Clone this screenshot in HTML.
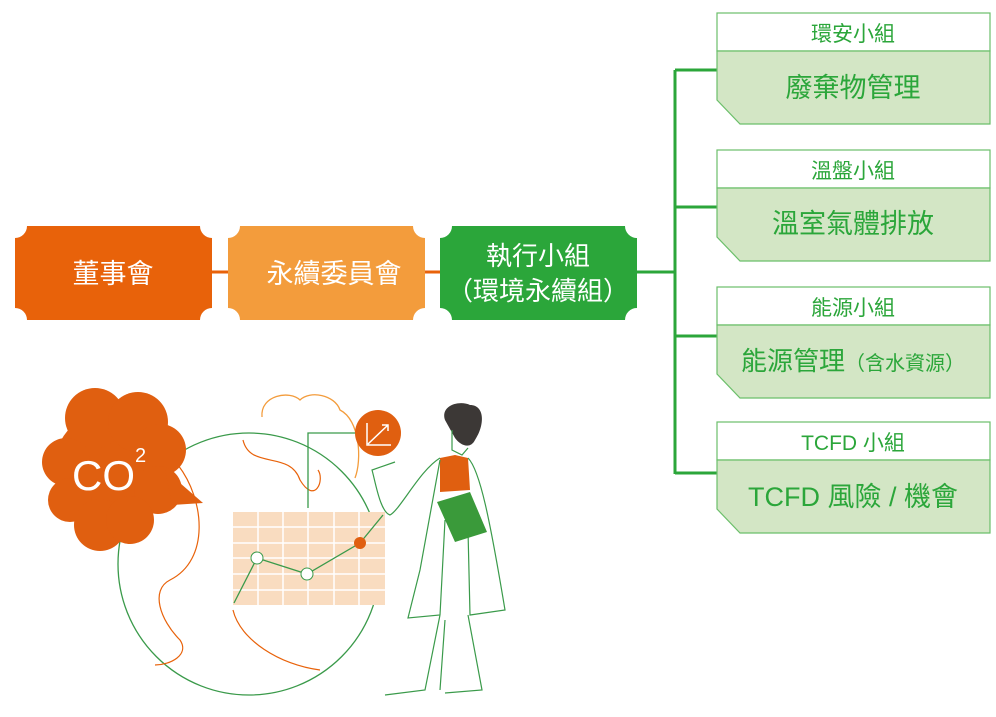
<!DOCTYPE html>
<html><head><meta charset="utf-8"><style>
body{margin:0;width:996px;height:712px;background:#fff;overflow:hidden;font-family:"Liberation Sans","Noto Sans CJK TC",sans-serif}
</style></head><body>
<svg width="996" height="712" xmlns="http://www.w3.org/2000/svg" font-family="Liberation Sans, Noto Sans CJK TC, sans-serif">
<defs>
<path id="tk" d="M12,0 H185 A12,12 0 0 0 197,12 V82 A12,12 0 0 0 185,94 H12 A12,12 0 0 0 0,82 V12 A12,12 0 0 0 12,0 Z"/>
</defs>
<line x1="200" y1="272" x2="676" y2="272" stroke="#e8620a" stroke-width="3"/>
<line x1="620" y1="272" x2="676" y2="272" stroke="#2ba63a" stroke-width="3"/>
<use href="#tk" x="15" y="226" fill="#e8620a"/>
<use href="#tk" x="228" y="226" fill="#f39c3c"/>
<use href="#tk" x="440" y="226" fill="#2ba63a"/>
<text x="113" y="283" fill="#fff" font-size="27" text-anchor="middle">董事會</text>
<text x="334" y="283" fill="#fff" font-size="27" text-anchor="middle">永續委員會</text>
<text x="538" y="265" fill="#fff" font-size="26" text-anchor="middle">執行小組</text>
<text x="538" y="300" fill="#fff" font-size="26" text-anchor="middle">（環境永續組）</text>
<g stroke="#2ba63a" stroke-width="3" fill="none">
<path d="M675,70 V474"/>
<path d="M675,70 H717 M675,207 H717 M675,336 H717 M675,473 H717"/>
</g>
<g stroke="#6bbf6a" stroke-width="1.2">
<g><rect x="717" y="13" width="273" height="38" fill="#fff"/><path d="M717,51 H990 V124 H740 L717,100 Z" fill="#d3e6c5"/></g>
<g transform="translate(0,137)"><rect x="717" y="13" width="273" height="38" fill="#fff"/><path d="M717,51 H990 V124 H740 L717,100 Z" fill="#d3e6c5"/></g>
<g transform="translate(0,274)"><rect x="717" y="13" width="273" height="38" fill="#fff"/><path d="M717,51 H990 V124 H740 L717,100 Z" fill="#d3e6c5"/></g>
<g transform="translate(0,409)"><rect x="717" y="13" width="273" height="38" fill="#fff"/><path d="M717,51 H990 V124 H740 L717,100 Z" fill="#d3e6c5"/></g>
</g>
<g fill="#2ba63a" text-anchor="middle">
<text x="853" y="41" font-size="21">環安小組</text>
<text x="853" y="97" font-size="27">廢棄物管理</text>
<text x="853" y="178" font-size="21">溫盤小組</text>
<text x="853" y="233" font-size="27">溫室氣體排放</text>
<text x="853" y="315" font-size="21">能源小組</text>
<text x="853" y="370" font-size="26">能源管理<tspan font-size="20">（含水資源）</tspan></text>
<text x="853" y="450" font-size="21">TCFD 小組</text>
<text x="853" y="506" font-size="27">TCFD 風險 / 機會</text>
</g>
<circle cx="249" cy="564" r="131" fill="none" stroke="#3a9a4a" stroke-width="1.3"/>
<path d="M262,417 C260,395 290,390 300,400 C310,390 335,395 340,410 C360,420 362,460 355,478" fill="none" stroke="#f39c3c" stroke-width="1.3"/>
<path d="M243,440 C250,470 290,450 300,480 C315,505 325,480 318,470" fill="none" stroke="#e8620a" stroke-width="1.2"/>
<path d="M178,465 C205,500 210,560 170,580 C150,590 160,620 180,640 C190,655 170,665 155,665" fill="none" stroke="#e8620a" stroke-width="1.2"/>
<path d="M233,610 C240,640 280,665 320,670" fill="none" stroke="#e8620a" stroke-width="1.2"/>
<g fill="#e05f10">
<circle cx="112" cy="468" r="58"/><circle cx="95" cy="418" r="30"/><circle cx="138" cy="422" r="30"/><circle cx="160" cy="450" r="26"/><circle cx="158" cy="490" r="24"/><circle cx="66" cy="462" r="24"/><circle cx="70" cy="500" r="22"/><circle cx="100" cy="525" r="26"/><circle cx="130" cy="520" r="24"/>
<path d="M165,470 L203,503 L172,505 Z"/>
</g>
<text x="72" y="490" fill="#fff" font-size="42">CO</text><text x="135" y="462" fill="#fff" font-size="20">2</text>
<path d="M308,508 V433 H360" fill="none" stroke="#3a9a4a" stroke-width="1.3"/>
<circle cx="378" cy="433" r="23" fill="#e05f10"/>
<path d="M367,423 V445 H391 M368,444 L388,425 M382,425 H388 V431" stroke="#fff" stroke-width="1.5" fill="none"/>
<rect x="233" y="512" width="152" height="93" fill="#f9dcc0"/>
<g stroke="#fff" stroke-width="1.5">
<path d="M258,512V605M283,512V605M308,512V605M334,512V605M359,512V605M233,527H385M233,543H385M233,558H385M233,574H385M233,590H385"/>
</g>
<path d="M234,603 L257,558 L307,574 L360,543 L383,515" fill="none" stroke="#3a9a4a" stroke-width="1.3"/>
<circle cx="257" cy="558" r="6" fill="#fff" stroke="#3a9a4a"/><circle cx="307" cy="574" r="6" fill="#fff" stroke="#3a9a4a"/><circle cx="360" cy="543" r="6" fill="#e05f10"/>
<path d="M445,420 C440,405 460,400 470,405 C485,405 485,425 475,440 C470,450 460,445 455,438 Z" fill="#3c3836"/>
<path d="M452,430 V450 L462,455 L468,448" fill="none" stroke="#3a9a4a" stroke-width="1.2"/>
<path d="M440,458 L455,455 L468,458 L470,490 L440,492 Z" fill="#e05f10"/>
<path d="M440,458 C420,470 400,510 390,515 C380,512 375,480 372,470 L395,462 M440,460 L420,570 L408,618 L440,615 L445,520 M468,458 C480,470 490,520 505,610 L470,615 L468,530 M440,615 L425,690 L385,695 M468,615 L482,690 L445,693 M445,620 L440,690" fill="none" stroke="#3a9a4a" stroke-width="1.2"/>
<path d="M437,502 L470,492 L487,532 L455,542 Z" fill="#3a9a3a"/>
</svg>
</body></html>
